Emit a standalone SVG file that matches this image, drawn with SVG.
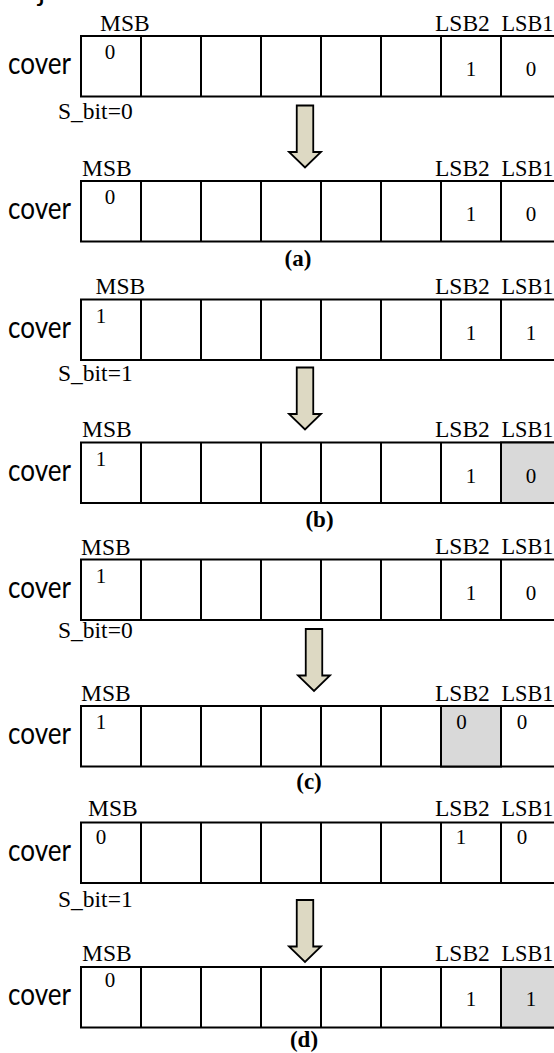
<svg xmlns="http://www.w3.org/2000/svg" xmlns:xlink="http://www.w3.org/1999/xlink" width="554" height="1053" viewBox="0 0 554 1053">
<style>
.cell{fill:#fff;stroke:#000;stroke-width:2}
.sh{fill:#d9d9d9;stroke:#000;stroke-width:2}
.div{stroke:#000;stroke-width:2}
.sans{font-family:Lato,"Open Sans",sans-serif;font-size:30px;fill:#000}
.ser{font-family:"Liberation Serif","Times New Roman",serif;font-size:23.5px;fill:#000}
.dig{font-family:"Liberation Serif","Times New Roman",serif;font-size:21px;fill:#000;text-anchor:middle}
.cap{font-family:"Liberation Serif","Times New Roman",serif;font-size:23px;font-weight:bold;fill:#000;text-anchor:middle}
.arr{fill:#ddd9c3;stroke:#000;stroke-width:1.8;stroke-linejoin:miter}
</style>
<defs>
<g id="cells">
<rect class="cell" x="81" y="0" width="480" height="60.5"/>
<path class="div" d="M141 0V60.5M201 0V60.5M261 0V60.5M321 0V60.5M381 0V60.5M441 0V60.5M501 0V60.5"/>
</g>
<polygon id="arrow" class="arr" points="-8.25,0 8.25,0 8.25,46.5 16,46.5 0,62 -16,46.5 -8.25,46.5"/>
</defs>
<rect width="554" height="1053" fill="#fff"/>
<text class="sans" x="38" y="1">j</text>

<g id="row-a1" transform="translate(0,36)">
<use xlink:href="#cells"/>
<text class="sans" x="8" y="38" textLength="63" lengthAdjust="spacingAndGlyphs">cover</text>
<text class="ser" x="100" y="-5.3">MSB</text>
<text class="ser" x="435" y="-5.5">LSB2</text>
<text class="ser" x="501.5" y="-5.5" textLength="52" lengthAdjust="spacingAndGlyphs">LSB1</text>
<text class="dig" x="110" y="23.3">0</text>
<text class="dig" x="471" y="40">1</text>
<text class="dig" x="531" y="40">0</text>
</g>
<text class="ser" x="58" y="119.3">S_bit=0</text>
<g id="row-a2" transform="translate(0,181)">
<use xlink:href="#cells"/>
<text class="sans" x="8" y="38" textLength="63" lengthAdjust="spacingAndGlyphs">cover</text>
<text class="ser" x="82" y="-5.5">MSB</text>
<text class="ser" x="435" y="-5.5">LSB2</text>
<text class="ser" x="501.5" y="-5.5" textLength="52" lengthAdjust="spacingAndGlyphs">LSB1</text>
<text class="dig" x="110" y="23.3">0</text>
<text class="dig" x="471" y="40">1</text>
<text class="dig" x="531" y="40">0</text>
</g>
<text class="cap" x="298" y="266">(a)</text>

<g id="row-b1" transform="translate(0,299.5)">
<use xlink:href="#cells"/>
<text class="sans" x="8" y="38" textLength="63" lengthAdjust="spacingAndGlyphs">cover</text>
<text class="ser" x="95.5" y="-5.5">MSB</text>
<text class="ser" x="435" y="-5.5">LSB2</text>
<text class="ser" x="501.5" y="-5.5" textLength="52" lengthAdjust="spacingAndGlyphs">LSB1</text>
<text class="dig" x="101" y="23.3">1</text>
<text class="dig" x="471" y="40">1</text>
<text class="dig" x="531" y="40">1</text>
</g>
<text class="ser" x="58" y="381">S_bit=1</text>
<g id="row-b2" transform="translate(0,442.5)">
<use xlink:href="#cells"/>
<rect class="sh" x="501" y="0" width="60" height="60.5"/>
<text class="sans" x="8" y="38" textLength="63" lengthAdjust="spacingAndGlyphs">cover</text>
<text class="ser" x="82" y="-5.5">MSB</text>
<text class="ser" x="435" y="-5.5">LSB2</text>
<text class="ser" x="501.5" y="-5.5" textLength="52" lengthAdjust="spacingAndGlyphs">LSB1</text>
<text class="dig" x="101" y="23.3">1</text>
<text class="dig" x="471" y="40">1</text>
<text class="dig" x="531" y="40">0</text>
</g>
<text class="cap" x="319.5" y="527">(b)</text>

<g id="row-c1" transform="translate(0,559.5)">
<use xlink:href="#cells"/>
<text class="sans" x="8" y="38" textLength="63" lengthAdjust="spacingAndGlyphs">cover</text>
<text class="ser" x="81" y="-5">MSB</text>
<text class="ser" x="435" y="-5.5">LSB2</text>
<text class="ser" x="501.5" y="-5.5" textLength="52" lengthAdjust="spacingAndGlyphs">LSB1</text>
<text class="dig" x="101" y="23.3">1</text>
<text class="dig" x="471" y="40">1</text>
<text class="dig" x="531" y="40">0</text>
</g>
<text class="ser" x="58" y="638.3">S_bit=0</text>
<g id="row-c2" transform="translate(0,706)">
<use xlink:href="#cells"/>
<rect class="sh" x="441" y="0" width="60" height="60.5"/>
<text class="sans" x="8" y="38" textLength="63" lengthAdjust="spacingAndGlyphs">cover</text>
<text class="ser" x="81" y="-5.5">MSB</text>
<text class="ser" x="435" y="-5.5">LSB2</text>
<text class="ser" x="501.5" y="-5.5" textLength="52" lengthAdjust="spacingAndGlyphs">LSB1</text>
<text class="dig" x="101" y="22.5">1</text>
<text class="dig" x="461.5" y="22.5">0</text>
<text class="dig" x="522" y="22.5">0</text>
</g>
<text class="cap" x="309" y="789">(c)</text>

<g id="row-d1" transform="translate(0,822.5)">
<use xlink:href="#cells"/>
<text class="sans" x="8" y="38" textLength="63" lengthAdjust="spacingAndGlyphs">cover</text>
<text class="ser" x="88" y="-6.5">MSB</text>
<text class="ser" x="435" y="-6.5">LSB2</text>
<text class="ser" x="501.5" y="-6.5" textLength="52" lengthAdjust="spacingAndGlyphs">LSB1</text>
<text class="dig" x="101" y="21">0</text>
<text class="dig" x="461" y="21">1</text>
<text class="dig" x="522" y="21">0</text>
</g>
<text class="ser" x="58" y="906.7">S_bit=1</text>
<g id="row-d2" transform="translate(0,967)">
<use xlink:href="#cells"/>
<rect class="sh" x="501" y="0" width="60" height="60.5"/>
<text class="sans" x="8" y="38" textLength="63" lengthAdjust="spacingAndGlyphs">cover</text>
<text class="ser" x="82" y="-6.5">MSB</text>
<text class="ser" x="435" y="-6.5">LSB2</text>
<text class="ser" x="501.5" y="-6.5" textLength="52" lengthAdjust="spacingAndGlyphs">LSB1</text>
<text class="dig" x="110" y="20">0</text>
<text class="dig" x="471" y="39">1</text>
<text class="dig" x="531" y="39">1</text>
</g>
<text class="cap" x="304" y="1047">(d)</text>

<g id="connectors">
<use xlink:href="#arrow" transform="translate(305,105.5)"/>
<use xlink:href="#arrow" transform="translate(305,367.5)"/>
<use xlink:href="#arrow" transform="translate(314,629)"/>
<use xlink:href="#arrow" transform="translate(305,900)"/>
</g>
</svg>
